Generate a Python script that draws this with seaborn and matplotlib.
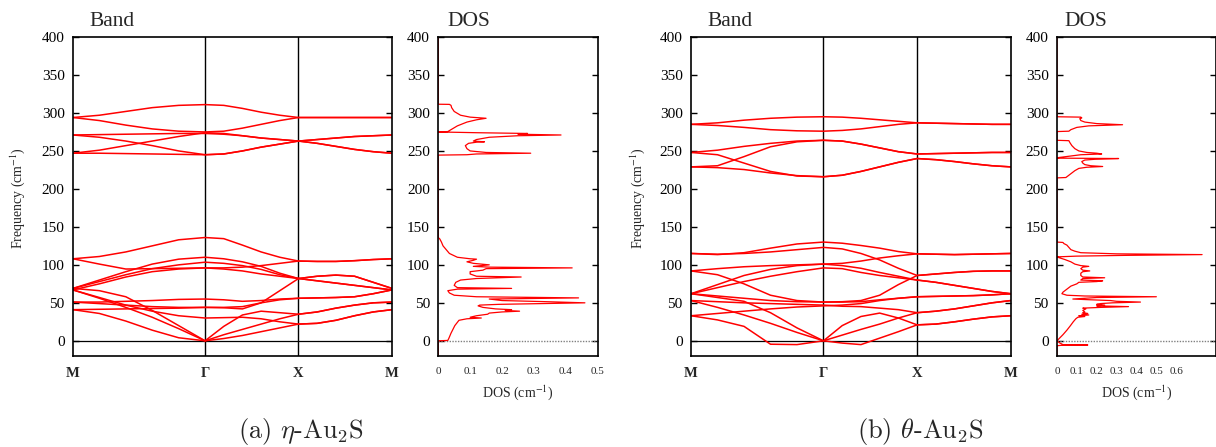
import numpy as np
import pandas as pd
import seaborn as sns
import matplotlib
matplotlib.use('Agg')
import matplotlib.pyplot as plt

# path labels and sample fractions along each segment (M-G-X-M)
path_labels = ['M', 'Γ', 'X', 'M']
seg_frac = [0.0, 0.2, 0.4, 0.6, 0.8, 1.0]

# eta-Au2S bands, values at M,.2,.4,.6,.8,G,.2,.4,.6,.8,X,.2,.4,.6,.8,M
eta_upper = [
    [294, 297, 302, 307, 310, 311, 310, 306, 301, 297, 294, 294, 294, 294, 294, 294],
    [294, 290, 284, 279, 276, 275, 276, 280, 285, 290, 294, 294, 294, 294, 294, 294],
    [271, 271.5, 272, 272.5, 273, 273, 272, 270, 267, 265, 263, 265, 267, 269, 270, 271],
    [271, 268, 263, 257, 250, 245, 246, 250, 255, 259, 263, 260, 256, 252, 249, 247],
    [247, 251, 257, 263, 269, 274, 273, 270, 267, 265, 263, 260, 256, 252, 249, 247],
    [247, 247, 246.5, 246, 245.5, 245, 246, 250, 255, 259, 263, 265, 267, 269, 270, 271],
]
eta_lower = [
    [108, 111, 117, 125, 133, 136, 134.5, 126, 117, 110, 105, 104.5, 104.5, 105.5, 107, 108],
    [108, 101, 94.5, 95, 95.5, 96, 96, 97, 99, 102, 105, 104.5, 104.5, 105.5, 107, 108],
    [69, 80, 91, 101, 107.5, 110, 108, 104, 98, 89, 82, 85, 86.5, 85, 77, 69],
    [69, 78, 87, 95, 100, 103.5, 102, 99, 94, 87, 82, 85, 86.5, 85, 77, 69],
    [67, 75, 84, 91, 94.5, 96, 94.5, 92, 88, 85, 82, 79, 76, 73, 70, 67],
    [41, 41.5, 42, 42.5, 43, 44, 43.5, 42, 50, 66, 82, 79, 76, 73, 70, 67],
    [51, 51, 52, 53, 54.5, 55, 54, 52, 53, 55, 56, 56.5, 57, 58, 62, 67],
    [51, 49, 47, 45, 44, 44, 44, 45, 50, 54, 56, 56.5, 57, 58, 62, 67],
    [67, 57, 47, 39, 33, 30, 30.5, 31, 29, 25, 22, 23, 27, 33, 38, 41],
    [69, 66, 58, 40, 20, 0, 19, 34, 39, 37, 35, 38, 43, 47, 50, 51],
    [67, 56, 44, 31, 16, 0, 8, 15, 22, 29, 35, 38, 43, 47, 50, 51],
    [41, 36, 26, 14, 4, 0, 3, 7, 12, 17, 22, 23, 27, 33, 38, 41],
]

# theta-Au2S bands
theta_upper = [
    [285, 287, 290.5, 293, 294.5, 295, 294.5, 293, 291, 289, 287, 286.5, 286, 285.5, 285, 285],
    [285, 283.5, 281, 278, 276.5, 276, 277, 279, 282, 285, 287, 286.5, 286, 285.5, 285, 285],
    [248, 251, 256, 260, 263, 264, 263, 259, 254, 249, 246, 246.5, 247, 247.5, 248, 248],
    [229, 230.5, 242.5, 255.5, 262, 264, 263, 259, 254, 249, 246, 246.5, 247, 247.5, 248, 248],
    [248, 245, 234, 223, 217, 216, 218, 223, 229, 235, 240, 238.5, 236, 233, 230.5, 229],
    [229, 228, 225.5, 221, 217.5, 216, 218, 223, 229, 235, 240, 238.5, 236, 233, 230.5, 229],
]
theta_lower = [
    [115, 113.5, 116, 122, 127.5, 130, 128.5, 125.5, 122, 117.5, 114.5, 114, 113.5, 114, 114.5, 115],
    [115, 114, 115, 117, 120, 123, 121, 115, 106.5, 95.5, 86, 88, 90, 91.5, 92, 92],
    [92, 95, 97.5, 99, 100, 101, 102, 105, 109, 112, 114.5, 114, 113.5, 114, 114.5, 115],
    [92, 87, 75, 60, 53, 51, 51.5, 53, 60, 74, 86, 88, 90, 91.5, 92, 92],
    [62, 74, 86, 94, 99, 101, 99, 95.5, 90, 85, 80, 77, 73, 69, 65, 62],
    [62, 70, 78, 85, 91, 96, 95, 90, 86, 83, 80, 77, 73, 69, 65, 62],
    [62, 59, 56, 53, 51.5, 51, 51, 51.5, 54, 56, 58, 58.5, 59, 59.5, 60.5, 62],
    [62, 57, 52, 37, 17, 0, 20, 32, 36.5, 30, 21, 22, 25, 28.5, 31.5, 33],
    [53, 44, 34, 23, 11, 0, 7.5, 15, 22, 30, 37, 39, 42, 46, 50, 53],
    [53, 51.5, 50, 49, 48, 47, 45.5, 45, 43, 41, 37, 39, 42, 46, 50, 53],
    [33, 36, 39, 42, 44.5, 46, 47, 49, 53, 56, 58, 58.5, 59, 59.5, 60.5, 62],
    [33, 27.5, 19, -4.5, -5, 0, -3, -5, 3.5, 12, 21, 22, 25, 28.5, 31.5, 33],
]

# DOS curves (frequency, dos)
eta_dos_freq = [-20, 0, 0.5, 3, 10, 20, 27, 29, 30, 31, 33, 35, 36.5, 38, 39, 40, 41, 42, 44, 46,
                47, 48, 50, 51.5, 53, 55, 56.5, 58, 60, 63, 66, 68, 69, 70, 73, 77, 80, 82, 84,
                85, 88, 91, 93, 95, 96, 97, 98, 100, 102, 104, 106, 107.5, 108, 110, 115, 120,
                125, 130, 134, 136,
                244.5, 245, 246, 247, 248, 250, 253, 257, 260, 261.5, 262, 263, 265, 268, 270,
                271, 272, 273, 274, 275, 275.5, 278, 283, 288, 291, 293, 294.5, 297, 302, 307,
                310, 311.3, 311.5, 400]
eta_dos_val = [0, 0, 0.03, 0.033, 0.04, 0.052, 0.065, 0.09, 0.135, 0.10, 0.12, 0.155, 0.16, 0.2,
               0.255, 0.21, 0.23, 0.18, 0.14, 0.125, 0.13, 0.19, 0.46, 0.34, 0.2, 0.16, 0.44,
               0.12, 0.05, 0.035, 0.03, 0.06, 0.23, 0.06, 0.05, 0.055, 0.07, 0.12, 0.26, 0.12,
               0.1, 0.1, 0.14, 0.15, 0.42, 0.16, 0.11, 0.16, 0.11, 0.09, 0.11, 0.12, 0.1, 0.06,
               0.035, 0.025, 0.015, 0.01, 0.005, 0.0,
               0.0, 0.09, 0.12, 0.29, 0.15, 0.10, 0.09, 0.085, 0.095, 0.12, 0.145, 0.11, 0.12,
               0.16, 0.25, 0.385, 0.25, 0.28, 0.12, 0.0, 0.03, 0.04, 0.06, 0.09, 0.12, 0.15,
               0.1, 0.07, 0.05, 0.042, 0.04, 0.035, 0.0, 0.0]

theta_dos_freq = [-20, -6.5, -6, -5.5, -5, -3, -1, 0, 1, 4, 8, 14, 20, 25, 29, 31, 32, 33, 34, 35,
                  36, 37, 38, 40, 42, 43, 44, 45, 46, 47, 48, 49, 50, 51, 52, 53, 54, 55, 57, 58,
                  59, 60, 62, 64, 68, 72, 75, 77, 78, 79, 80, 82, 83, 84, 86, 89, 91, 92, 93, 95,
                  97, 98, 99, 101, 104, 107, 109.5, 110.5, 111.5, 112.5, 113.5, 114.5, 116, 118,
                  120, 123, 126, 128, 129.5, 130,
                  214.5, 215, 216, 218, 221, 224, 227, 228.5, 229.5, 230.5, 232, 234, 236, 238,
                  239, 240, 240.5, 241, 243, 245, 246, 247, 248, 250, 253, 257, 261, 263.5, 264,
                  275.5, 276, 278, 281, 283, 284.5, 286, 288, 290, 292.5, 293.5, 294.5, 295, 400]
theta_dos_val = [0, 0, 0.02, 0.155, 0.03, 0.015, 0.005, 0, 0.004, 0.015, 0.03, 0.05, 0.068, 0.082,
                 0.095, 0.105, 0.14, 0.11, 0.16, 0.125, 0.155, 0.13, 0.14, 0.13, 0.145, 0.13, 0.22,
                 0.36, 0.2, 0.24, 0.2, 0.22, 0.28, 0.42, 0.3, 0.27, 0.17, 0.08, 0.2, 0.5, 0.14,
                 0.05, 0.025, 0.03, 0.05, 0.07, 0.1, 0.11, 0.2, 0.23, 0.12, 0.13, 0.24, 0.13,
                 0.12, 0.12, 0.13, 0.165, 0.13, 0.12, 0.13, 0.16, 0.12, 0.09, 0.07, 0.04, 0.01,
                 0.0, 0.1, 0.35, 0.73, 0.3, 0.12, 0.09, 0.07, 0.06, 0.05, 0.035, 0.03, 0.0,
                 0.0, 0.045, 0.05, 0.06, 0.075, 0.09, 0.11, 0.15, 0.23, 0.17, 0.14, 0.13, 0.125,
                 0.14, 0.19, 0.31, 0.0, 0.0, 0.06, 0.12, 0.225, 0.2, 0.15, 0.11, 0.09, 0.075,
                 0.065, 0.06, 0.0,
                 0.0, 0.06, 0.07, 0.1, 0.16, 0.33, 0.2, 0.14, 0.12, 0.115, 0.125, 0.12, 0.0, 0.0]

sns.set_theme(style='ticks')
plt.rcParams['font.family'] = ['Liberation Serif', 'DejaVu Serif']
plt.rcParams['mathtext.fontset'] = 'stix'

k_nodes = [0, np.sqrt(2), np.sqrt(2) + 1, np.sqrt(2) + 2]
k_path = [k_nodes[0] + f * (k_nodes[1] - k_nodes[0]) for f in seg_frac]
for i in (1, 2):
    k_path += [k_nodes[i] + f * (k_nodes[i + 1] - k_nodes[i]) for f in seg_frac[1:]]


def band_frame(bands):
    rows = []
    for b, vals in enumerate(bands):
        for k, v in zip(k_path, vals):
            rows.append({'k': k, 'freq': v, 'band': b})
    return pd.DataFrame(rows)


def style_axis(ax):
    for s in ax.spines.values():
        s.set_color('black')
        s.set_linewidth(1.2)
    ax.set_ylim(-20, 400)
    ax.set_yticks(range(0, 401, 50))
    ax.tick_params(axis='y', direction='in', length=4, width=1, right=True,
                   labelsize=11, pad=6, colors='black')
    ax.set_xlabel('')
    ax.set_ylabel('')


def draw_panel(ax_b, ax_d, upper, lower, dos_f, dos_v, xmax, xticks):
    df = band_frame(upper + lower)
    ax_b.axhline(0, color='black', lw=0.9, zorder=1)
    for kx in k_nodes[1:3]:
        ax_b.axvline(kx, color='black', lw=1.0, zorder=1)
    sns.lineplot(data=df, x='k', y='freq', units='band', estimator=None,
                 color='red', linewidth=1.1, ax=ax_b, legend=False)
    ax_b.set_xlim(k_nodes[0], k_nodes[-1])
    style_axis(ax_b)
    ax_b.set_xticks(k_nodes)
    ax_b.set_xticklabels(path_labels, fontweight='bold', fontsize=10.5)
    ax_b.tick_params(axis='x', length=0, pad=8)

    ax_d.plot([0, xmax], [0, 0], color='grey', lw=1, ls=(0, (1, 1)), zorder=1)
    sns.lineplot(x=dos_v, y=dos_f, sort=False, estimator=None, color='red',
                 linewidth=0.9, ax=ax_d)
    ax_d.set_xlim(0, xmax)
    style_axis(ax_d)
    ax_d.set_xticks(xticks)
    ax_d.set_xticklabels([('0' if t == 0 else f'{t:.1f}') for t in xticks], fontsize=8)
    ax_d.tick_params(axis='x', length=0, pad=8)


fig = plt.figure(figsize=(12.16, 4.47), dpi=100)
bot, hgt = 0.2036, 0.7136
ax1 = fig.add_axes([0.0600, bot, 0.2623, hgt])
ax2 = fig.add_axes([0.3604, bot, 0.1311, hgt])
ax3 = fig.add_axes([0.5683, bot, 0.2629, hgt])
ax4 = fig.add_axes([0.8692, bot, 0.1308, hgt])

draw_panel(ax1, ax2, eta_upper, eta_lower, eta_dos_freq, eta_dos_val, 0.5,
           [0, 0.1, 0.2, 0.3, 0.4, 0.5])
draw_panel(ax3, ax4, theta_upper, theta_lower, theta_dos_freq, theta_dos_val, 0.8,
           [0, 0.1, 0.2, 0.3, 0.4, 0.5, 0.6])

for x in (0.0732, 0.5817):
    fig.text(x, 0.9425, 'Band', fontsize=15.5, ha='left', va='baseline')
for x in (0.3676, 0.8753):
    fig.text(x, 0.9425, 'DOS', fontsize=15.5, ha='left', va='baseline')
for x in (0.0148, 0.5247):
    fig.text(x, 0.558, 'Frequency (cm$^{-1}$)', rotation=90, fontsize=10,
             ha='center', va='center')
for x in (0.4259, 0.9347):
    fig.text(x, 0.121, 'DOS (cm$^{-1}$)', fontsize=10, ha='center', va='center')

fig.text(0.2475, 0.034, r'(a) $\eta$-Au$_2$S', fontsize=19, ha='center', va='center',
         family='cmr10', math_fontfamily='cm')
fig.text(0.7566, 0.034, r'(b) $\theta$-Au$_2$S', fontsize=19, ha='center', va='center',
         family='cmr10', math_fontfamily='cm')

fig.savefig('out.png', dpi=100)
